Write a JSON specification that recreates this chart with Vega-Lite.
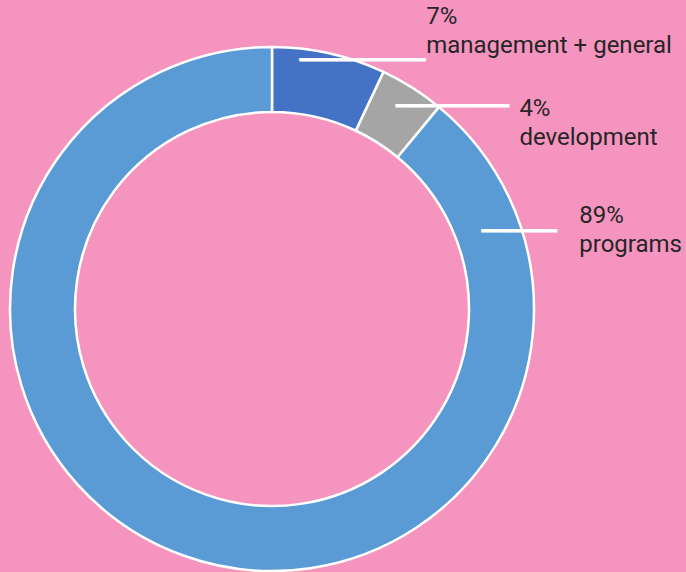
{
  "$schema": "https://vega.github.io/schema/vega-lite/v6.json",
  "width": 544,
  "height": 524,
  "autosize": {"type": "none"},
  "padding": {"left": 0, "top": 47, "right": 142, "bottom": 1},
  "background": "#F594BF",
  "config": {"view": {"stroke": null}},
  "data": {
    "values": [
      {"category": "management + general", "share": 7, "rank": 1, "label": "7%\nmanagement + general"},
      {"category": "development", "share": 4, "rank": 2, "label": "4%\ndevelopment"},
      {"category": "programs", "share": 89, "rank": 3, "label": "89%\nprograms"}
    ]
  },
  "encoding": {
    "theta": {"field": "share", "type": "quantitative", "stack": true},
    "order": {"field": "rank", "type": "quantitative"}
  },
  "layer": [
    {
      "mark": {"type": "arc", "outerRadius": 262, "innerRadius": 197, "stroke": "white", "strokeWidth": 2.5},
      "encoding": {
        "color": {
          "field": "category",
          "type": "nominal",
          "scale": {"domain": ["management + general", "development", "programs"], "range": ["#4472C4", "#A5A5A5", "#5B9BD5"]},
          "legend": null
        }
      }
    },
    {
      "mark": {"type": "text", "radius": 262, "align": "left", "baseline": "middle", "font": "DejaVu Sans", "fontSize": 21, "color": "white", "dx": -30, "dy": 8},
      "encoding": {"text": {"condition": {"test": "datum.category === 'management + general'", "value": "━━━━━━━━━━"}, "value": ""}}
    },
    {
      "mark": {"type": "text", "radius": 262, "align": "left", "baseline": "middle", "font": "DejaVu Sans", "fontSize": 21, "color": "white", "dx": -17, "dy": 19},
      "encoding": {"text": {"condition": {"test": "datum.category === 'development'", "value": "━━━━━━━━━"}, "value": ""}}
    },
    {
      "mark": {"type": "text", "radius": 262, "align": "left", "baseline": "middle", "font": "DejaVu Sans", "fontSize": 21, "color": "white", "dx": 298, "dy": -324},
      "encoding": {"text": {"condition": {"test": "datum.category === 'programs'", "value": "━━━━━━"}, "value": ""}}
    },
    {
      "mark": {"type": "text", "radius": 262, "align": "left", "baseline": "alphabetic", "font": "Roboto", "fontSize": 24, "lineHeight": 29, "lineBreak": "\n", "color": "#262626", "dx": 97, "dy": -29},
      "encoding": {"text": {"condition": {"test": "datum.category === 'management + general'", "field": "label", "type": "nominal"}, "value": ""}}
    },
    {
      "mark": {"type": "text", "radius": 262, "align": "left", "baseline": "alphabetic", "font": "Roboto", "fontSize": 24, "lineHeight": 29, "lineBreak": "\n", "color": "#262626", "dx": 107, "dy": 28},
      "encoding": {"text": {"condition": {"test": "datum.category === 'development'", "field": "label", "type": "nominal"}, "value": ""}}
    },
    {
      "mark": {"type": "text", "radius": 262, "align": "left", "baseline": "alphabetic", "font": "Roboto", "fontSize": 24, "lineHeight": 29, "lineBreak": "\n", "color": "#262626", "dx": 396, "dy": -333},
      "encoding": {"text": {"condition": {"test": "datum.category === 'programs'", "field": "label", "type": "nominal"}, "value": ""}}
    }
  ]
}
